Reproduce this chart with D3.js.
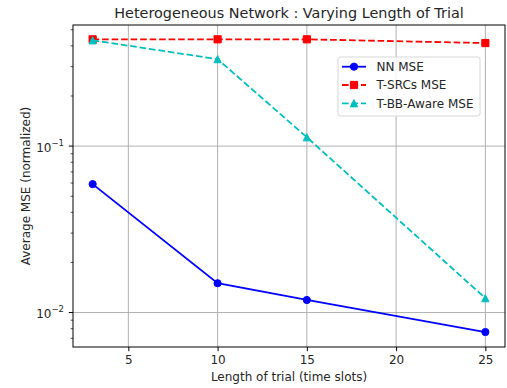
<!DOCTYPE html>
<html>
<head>
<meta charset="utf-8">
<script src="https://cdn.jsdelivr.net/npm/d3@7"></script>
<style>
  body { margin: 0; background: #fff; }
  text { font-family: "DejaVu Sans", sans-serif; fill: #262626; }
</style>
</head>
<body>
<div id="chart"></div>
<script>
// data
var trialLengths = [3, 10, 15, 25];
var nnMse = [0.0591, 0.0150, 0.0119, 0.00764];
var srcMse = [0.438, 0.438, 0.438, 0.416];
var bbMse = [0.432, 0.333, 0.113, 0.0122];
var xTicks = [5, 10, 15, 20, 25];
var yMajor = [0.1, 0.01];

var width = 507, height = 388;
var margin = {left: 73, right: 2, top: 25, bottom: 41};

var svg = d3.select('#chart').append('svg')
    .attr('width', width)
    .attr('height', height);

var x = d3.scaleLinear().domain([1.9, 26.1]).range([margin.left, width - margin.right]);
var y = d3.scaleLog().domain([0.00621, 0.534]).range([height - margin.bottom, margin.top]);

// grid
var grid = svg.append('g');
grid.selectAll('line.gx').data(xTicks).enter().append('line')
    .attr('x1', function(d) { return x(d); }).attr('x2', function(d) { return x(d); })
    .attr('y1', margin.top).attr('y2', height - margin.bottom)
    .attr('stroke', '#b0b0b0').attr('stroke-width', 1);
grid.selectAll('line.gy').data(yMajor).enter().append('line')
    .attr('y1', function(d) { return y(d); }).attr('y2', function(d) { return y(d); })
    .attr('x1', margin.left).attr('x2', width - margin.right)
    .attr('stroke', '#b0b0b0').attr('stroke-width', 1);

// x axis
var xAxis = svg.append('g')
    .attr('transform', 'translate(0,' + (height - margin.bottom) + ')')
    .call(d3.axisBottom(x).tickValues(xTicks).tickSize(4.2).tickPadding(4.2).tickSizeOuter(0));
xAxis.select('.domain').remove();
xAxis.selectAll('line').attr('stroke', '#000');
xAxis.selectAll('text').attr('font-size', 12).attr('font-family', 'DejaVu Sans').attr('fill', '#262626');

// y axis, minor ticks
var yMinor = [];
[0.001, 0.01, 0.1].forEach(function(b) {
  for (var k = 2; k <= 9; k++) {
    var v = b * k;
    if (v >= y.domain()[0] && v <= y.domain()[1]) yMinor.push(v);
  }
});
svg.selectAll('line.ymin').data(yMinor).enter().append('line')
    .attr('x1', margin.left - 2.4).attr('x2', margin.left)
    .attr('y1', function(d) { return y(d); }).attr('y2', function(d) { return y(d); })
    .attr('stroke', '#000').attr('stroke-width', 0.7);
svg.selectAll('line.ymaj').data(yMajor).enter().append('line')
    .attr('x1', margin.left - 4.2).attr('x2', margin.left)
    .attr('y1', function(d) { return y(d); }).attr('y2', function(d) { return y(d); })
    .attr('stroke', '#000').attr('stroke-width', 1);
var ylab = svg.selectAll('text.ytl').data(yMajor).enter().append('text')
    .attr('x', margin.left - 9)
    .attr('y', function(d) { return y(d) + 5.5; })
    .attr('text-anchor', 'end')
    .attr('font-size', 12);
ylab.append('tspan').text('10');
ylab.append('tspan').attr('dy', -6).attr('font-size', 8.5)
    .text(function(d) { return '\u2212' + Math.round(-Math.log10(d)); });

// frame
svg.append('rect')
    .attr('x', margin.left).attr('y', margin.top)
    .attr('width', width - margin.right - margin.left)
    .attr('height', height - margin.bottom - margin.top)
    .attr('fill', 'none').attr('stroke', '#000').attr('stroke-width', 1);

// series
var series = [
  {name: 'NN MSE', vals: nnMse, color: '#0000ff', dash: null, marker: 'circle'},
  {name: 'T-SRCs MSE', vals: srcMse, color: '#ff0000', dash: '6.6,2.9', marker: 'square'},
  {name: 'T-BB-Aware MSE', vals: bbMse, color: '#00bfbf', dash: '6.6,2.9', marker: 'triangle'}
];
var line = d3.line()
    .x(function(d) { return x(d[0]); })
    .y(function(d) { return y(d[1]); });

// marker shapes, half-size r
function markerPath(kind) {
  var r = 3.6;
  if (kind === 'circle') {
    var p = d3.path(); p.arc(0, 0, r, 0, 2 * Math.PI); p.closePath(); return p.toString();
  }
  if (kind === 'square') return 'M' + (-r) + ',' + (-r) + 'h' + 2 * r + 'v' + 2 * r + 'h' + (-2 * r) + 'Z';
  return 'M0,' + (-r) + 'L' + r + ',' + r + 'L' + (-r) + ',' + r + 'Z';
}

series.forEach(function(s) {
  var pts = trialLengths.map(function(t, i) { return [t, s.vals[i]]; });
  svg.append('path')
      .datum(pts)
      .attr('d', line)
      .attr('fill', 'none')
      .attr('stroke', s.color)
      .attr('stroke-width', 1.8)
      .attr('stroke-dasharray', s.dash);
  svg.selectAll(null).data(pts).enter().append('path')
      .attr('d', markerPath(s.marker))
      .attr('transform', function(d) { return 'translate(' + x(d[0]) + ',' + y(d[1]) + ')'; })
      .attr('fill', s.color)
      .attr('stroke', s.color)
      .attr('stroke-width', 1);
});

// legend
var lg = svg.append('g').attr('transform', 'translate(338,57)');
lg.append('rect')
    .attr('width', 142).attr('height', 59).attr('rx', 2.5)
    .attr('fill', 'rgba(255,255,255,0.8)').attr('stroke', '#d6d6d6').attr('stroke-width', 1);
series.forEach(function(s, i) {
  var yy = 9.7 + i * 18.3;
  lg.append('line')
      .attr('x1', 4).attr('x2', 28).attr('y1', yy).attr('y2', yy)
      .attr('stroke', s.color).attr('stroke-width', 1.8)
      .attr('stroke-dasharray', s.dash);
  lg.append('path')
      .attr('d', markerPath(s.marker))
      .attr('transform', 'translate(16,' + yy + ')')
      .attr('fill', s.color)
      .attr('stroke', s.color)
      .attr('stroke-width', 1);
  lg.append('text')
      .attr('x', 38.5).attr('y', yy + 4.4)
      .attr('font-size', 12)
      .text(s.name);
});

// labels
svg.append('text')
    .attr('x', (margin.left + width - margin.right) / 2).attr('y', 18)
    .attr('text-anchor', 'middle').attr('font-size', 14.4)
    .text('Heterogeneous Network : Varying Length of Trial');
svg.append('text')
    .attr('x', (margin.left + width - margin.right) / 2).attr('y', 381)
    .attr('text-anchor', 'middle').attr('font-size', 12)
    .text('Length of trial (time slots)');
svg.append('text')
    .attr('transform', 'translate(26,' + ((margin.top + height - margin.bottom) / 2) + ') rotate(-90)')
    .attr('text-anchor', 'middle').attr('dy', '0.35em').attr('font-size', 12)
    .text('Average MSE (normalized)');
</script>
</body>
</html>
